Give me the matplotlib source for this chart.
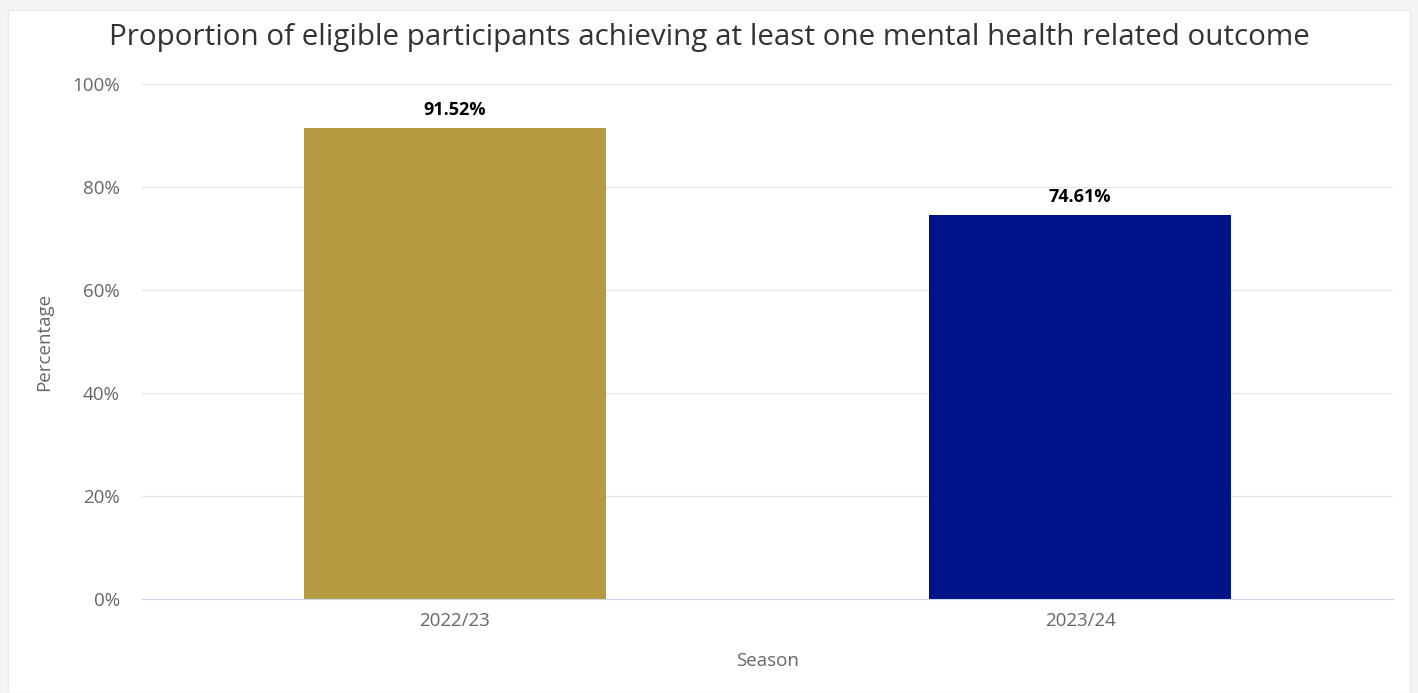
import matplotlib.pyplot as plt
from matplotlib.patches import Rectangle
from matplotlib.ticker import FuncFormatter

# ── Data ──────────────────────────────────────────────────────────────────────
seasons = ["2022/23", "2023/24"]
percentages = [91.52, 74.61]
bar_colors = ["#b59a41", "#001489"]

plt.rcParams["font.family"] = ["Open Sans", "DejaVu Sans"]

fig = plt.figure(figsize=(14.18, 6.93), dpi=100)
fig.patch.set_facecolor("#f4f4f4")

# white card behind the chart
card = Rectangle((8 / 1418, 0), 1402 / 1418, 1 - 10 / 693,
                 transform=fig.transFigure, facecolor="white",
                 edgecolor="#ececec", linewidth=1, zorder=-10)
fig.patches.append(card)

ax = fig.add_axes([142 / 1418, 1 - 599 / 693, 1251 / 1418, 515 / 693])
ax.set_facecolor("none")

x = range(len(seasons))
bars = ax.bar(x, percentages, width=0.483, color=bar_colors, zorder=3)

for rect, val in zip(bars, percentages):
    ax.annotate(f"{val:.2f}%",
                (rect.get_x() + rect.get_width() / 2, val),
                textcoords="offset points", xytext=(0, 6),
                ha="center", va="bottom", fontsize=13,
                fontweight="bold", color="black")

ax.set_xlim(-0.5, 1.5)
ax.set_ylim(0, 100)
ax.set_yticks(range(0, 101, 20))
ax.yaxis.set_major_formatter(FuncFormatter(lambda v, _: f"{v:.0f}%"))
ax.set_xticks(list(x))
ax.set_xticklabels(seasons)

ax.grid(axis="y", color="#e6e6e6", linewidth=1, zorder=0)
ax.tick_params(axis="both", length=0, labelsize=13.5, colors="#666666")
ax.tick_params(axis="y", pad=16)
ax.tick_params(axis="x", pad=9)
for side in ["top", "right", "left"]:
    ax.spines[side].set_visible(False)
ax.spines["bottom"].set_color("#ccd6eb")
ax.spines["bottom"].set_zorder(4)

ax.set_xlabel("Season", fontsize=13.5, color="#666666", labelpad=16)
ax.set_ylabel("Percentage", fontsize=13.5, color="#666666", labelpad=14)

fig.text(709 / 1418, 1 - 38 / 693,
         "Proportion of eligible participants achieving at least one mental health related outcome",
         ha="center", va="center", fontsize=21.3, color="#333333")

fig.savefig("out.png", dpi=100, facecolor=fig.get_facecolor())
